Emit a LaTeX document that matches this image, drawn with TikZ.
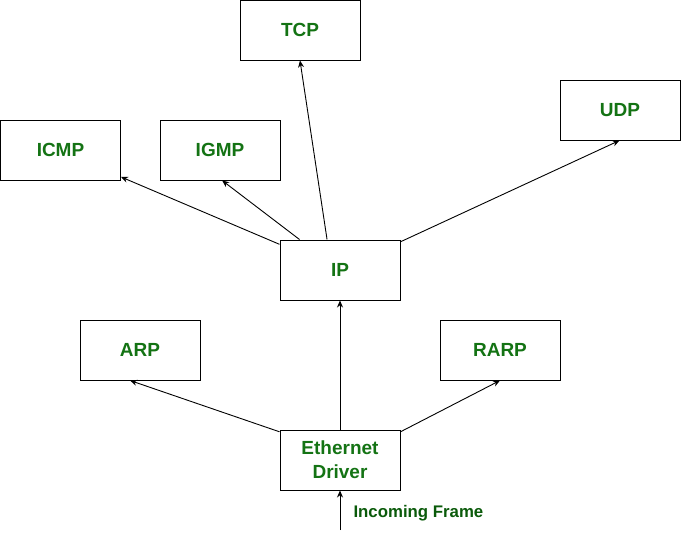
\documentclass[tikz,border=0pt]{standalone}
\usepackage{fontspec}
\setmainfont{Liberation Sans}
\usepackage{tikz}
\usetikzlibrary{positioning, arrows.meta}

\definecolor{labelgreen}{RGB}{20,115,20}
\definecolor{framegreen}{RGB}{10,90,10}

\tikzset{
  protobox/.style={draw, line width=1pt, minimum width=120pt, minimum height=60pt,
    inner sep=0pt, align=center, text=labelgreen,
    font=\fontsize{19}{24}\selectfont\bfseries},
  flow/.style={line width=0.9pt, -{Stealth[length=7pt, width=6pt]}}
}

\begin{document}
\begin{tikzpicture}[x=1pt, y=-1pt]
    \useasboundingbox (0,0) rectangle (681,539);

    % Protocol boxes
    \node[protobox] (tcp)  at (300,30)   {TCP};
    \node[protobox] (icmp) at (60.5,150) {ICMP};
    \node[protobox] (igmp) at (220,150)  {IGMP};
    \node[protobox] (udp)  at (620,110)  {UDP};
    \node[protobox] (ip)   at (340,270)  {IP};
    \node[protobox] (arp)  at (140,350)  {ARP};
    \node[protobox] (rarp) at (500,350)  {RARP};
    \node[protobox] (eth)  at (340,460)  {Ethernet\\Driver};

    % Arrows from IP upward
    \draw[flow] (ip.157) -- (icmp.-24);
    \draw[flow] (ip.143) -- (igmp.-86);
    \draw[flow] (ip.113) -- (tcp.south);
    \draw[flow] (ip.25)  -- (udp.-91);

    % Arrows from the driver
    \draw[flow] (eth.155)   -- (arp.-108);
    \draw[flow] (eth.25)    -- (rarp.-90);
    \draw[flow] (eth.north) -- (ip.south);

    % Incoming frame
    \coordinate (in) at (340,530);
    \draw[flow] (in) -- (eth.south);
    \node[anchor=west, text=framegreen, font=\fontsize{16.8}{20}\selectfont\bfseries]
      (frame) at (350,513) {Incoming Frame};
\end{tikzpicture}
\end{document}
